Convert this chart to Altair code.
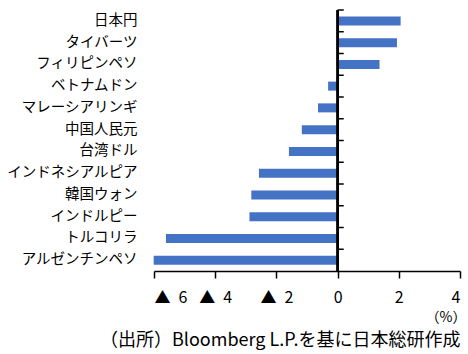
import altair as alt
import pandas as pd

categories = ["日本円", "タイバーツ", "フィリピンペソ", "ベトナムドン", "マレーシアリンギ",
              "中国人民元", "台湾ドル", "インドネシアルピア", "韓国ウォン", "インドルピー",
              "トルコリラ", "アルゼンチンペソ"]
values = [2.06, 1.94, 1.37, -0.31, -0.64, -1.17, -1.59, -2.57, -2.82, -2.88, -5.61, -6.01]
x_ticks = [-6, -4, -2, 0, 2, 4]
unit_label = "（%）"
caption = "（出所）Bloomberg L.P.を基に日本総研作成"

FONT = "Noto Sans CJK JP"
df = pd.DataFrame({"cat": categories, "val": values})

y_enc = alt.Y("cat:N", sort=categories, title=None,
              scale=alt.Scale(paddingInner=0, paddingOuter=0),
              axis=alt.Axis(domain=False, ticks=False, tickSize=0, labelPadding=17,
                            labelFont=FONT, labelFontSize=14.5, labelColor="#000000"))
x_scale = alt.Scale(domain=[-6, 4], nice=False, zero=False)

bars = alt.Chart(df).mark_bar(color="#4472C4", size=9).encode(
    x=alt.X("val:Q", scale=x_scale, title=None,
            axis=alt.Axis(values=x_ticks, grid=False, domainColor="#000000", domainWidth=1.5,
                          tickColor="#000000", tickWidth=1.5, tickSize=7, labelPadding=11,
                          labelFont=FONT, labelFontSize=16, labelColor="#000000",
                          labelExpr="datum.value < 0 ? '▲\u2002' + format(-datum.value, 'd') : format(datum.value, 'd')")),
    y=y_enc,
)

zero_line = alt.Chart(df).mark_rule(color="#000000", strokeWidth=1.5).encode(
    x=alt.datum(0)
)

yticks = alt.Chart(df).mark_rule(color="#000000", strokeWidth=1.5).encode(
    x=alt.datum(0), x2=alt.datum(0.2),
    y=alt.Y("cat:N", sort=categories, bandPosition=0)
)

unit = alt.Chart(pd.DataFrame({"t": [unit_label]})).mark_text(
    font=FONT, fontSize=14, color="#000000", align="center", baseline="middle"
).encode(text="t:N", x=alt.value(292), y=alt.value(308))

cap = alt.Chart(pd.DataFrame({"t": [caption]})).mark_text(
    font=FONT, fontSize=18, color="#000000", align="left", baseline="middle"
).encode(text="t:N", x=alt.value(-54), y=alt.value(331))

chart = alt.layer(bars, zero_line, yticks, unit, cap).properties(
    width=306, height=261,
    autosize=alt.AutoSizeParams(type="none"),
    padding={"left": 154, "top": 10, "right": 8, "bottom": 83},
).configure_view(stroke=None)

chart.save("out.html", embed_options={"renderer": "svg", "actions": False})
